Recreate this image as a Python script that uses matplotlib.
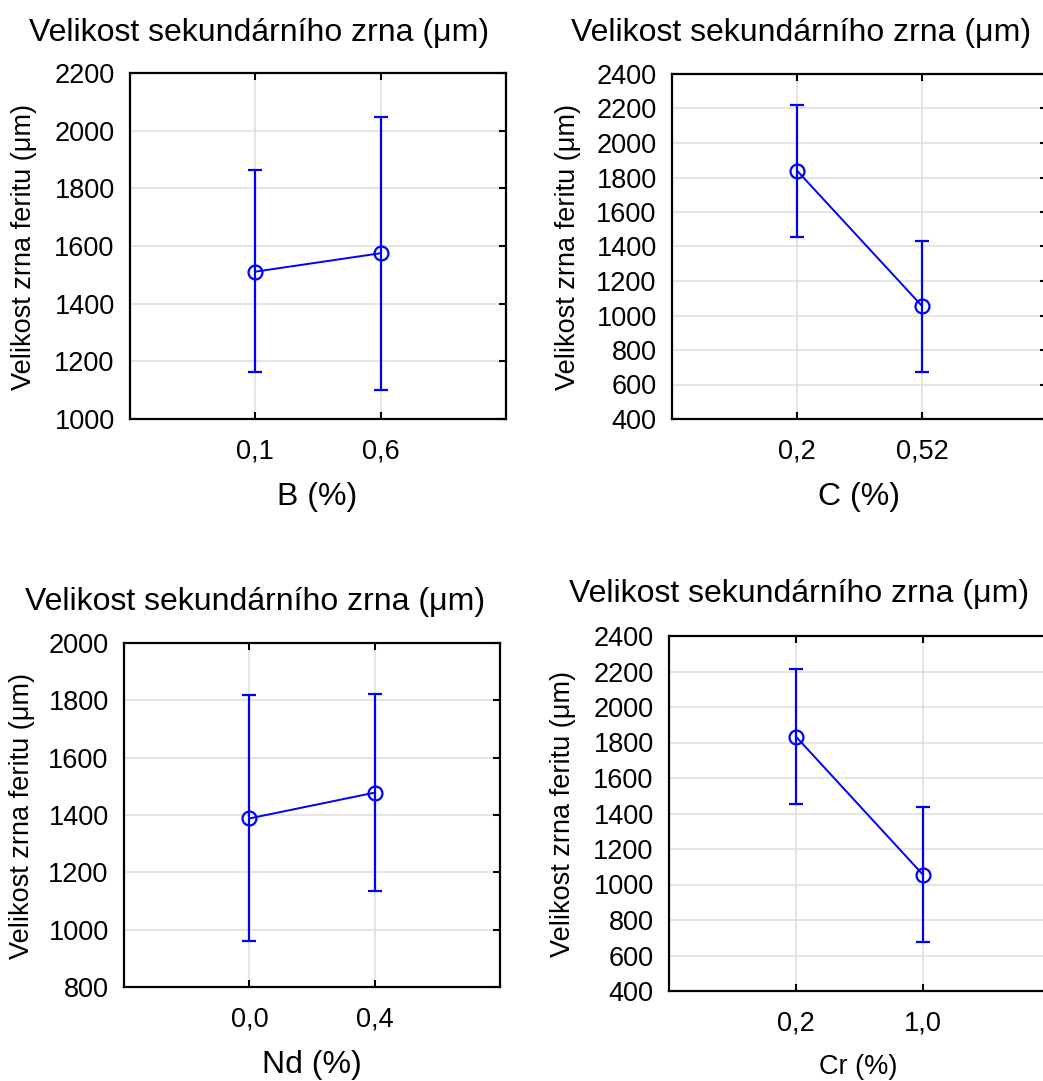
import matplotlib
matplotlib.use("Agg")
import matplotlib.pyplot as plt

plt.rcParams['font.family'] = ['Liberation Sans', 'DejaVu Sans']

# data (mean with lower / upper interval ends)
b_labels = ["0,1", "0,6"]
b_mean = [1511, 1575]
b_low = [1162, 1100]
b_high = [1862, 2049]

c_labels = ["0,2", "0,52"]
c_mean = [1840, 1055]
c_low = [1457, 674]
c_high = [2219, 1434]

nd_labels = ["0,0", "0,4"]
nd_mean = [1388, 1478]
nd_low = [961, 1134]
nd_high = [1818, 1822]

cr_labels = ["0,2", "1,0"]
cr_mean = [1833, 1055]
cr_low = [1454, 675]
cr_high = [2214, 1434]

title = "Velikost sekundárního zrna (μm)"
ylab = "Velikost zrna feritu (μm)"

W, H = 1043, 1081
fig = plt.figure(figsize=(W / 100, H / 100), dpi=100)


def px_axes(left, right, top, bottom):
    return fig.add_axes([left / W, 1 - bottom / H, (right - left) / W, (bottom - top) / H])


def panel(box, labels, mean, low, high, ylim, yticks):
    ax = px_axes(*box)
    xs = [1, 2]
    err = [[m - l for m, l in zip(mean, low)], [h - m for m, h in zip(mean, high)]]
    ax.errorbar(xs, mean, yerr=err, color='#0000ff', lw=1.4, marker='o', ms=10,
                mfc='none', mew=1.6, capsize=4.7, capthick=1.6, elinewidth=1.6)
    ax.set_xlim(0, 3)
    ax.set_ylim(*ylim)
    ax.set_yticks(yticks)
    ax.set_xticks(xs)
    ax.set_xticklabels(labels)
    ax.grid(True, color='#dedede', lw=1.1)
    ax.set_axisbelow(True)
    ax.tick_params(direction='in', left=False, right=True, top=True, bottom=True,
                   length=5, width=1.5, labelsize=19.5)
    ax.tick_params(axis='y', pad=11)
    ax.tick_params(axis='x', pad=14)
    for s in ax.spines.values():
        s.set_linewidth(1.6)
    return ax


panel((130, 506, 73, 419), b_labels, b_mean, b_low, b_high, (1000, 2200), range(1000, 2201, 200))
panel((672, 1047, 74, 419), c_labels, c_mean, c_low, c_high, (400, 2400), range(400, 2401, 200))
panel((124, 500, 643, 987), nd_labels, nd_mean, nd_low, nd_high, (800, 2000), range(800, 2001, 200))
panel((669, 1050, 636, 991), cr_labels, cr_mean, cr_low, cr_high, (400, 2400), range(400, 2401, 200))


def ftext(x, y, s, **kw):
    fig.text(x / W, 1 - y / H, s, ha='center', va='center', **kw)


# titles
ftext(259, 33, title, fontsize=23)
ftext(801, 33, title, fontsize=23)
ftext(255, 602, title, fontsize=23)
ftext(799, 594, title, fontsize=23)

# y labels
ftext(24, 247, ylab, fontsize=19.5, rotation=90)
ftext(568, 247, ylab, fontsize=19.5, rotation=90)
ftext(22, 816, ylab, fontsize=19.5, rotation=90)
ftext(563, 814, ylab, fontsize=19.5, rotation=90)

# x labels
ftext(317, 497, "B (%)", fontsize=23)
ftext(859, 497, "C (%)", fontsize=23)
ftext(312, 1065, "Nd (%)", fontsize=23)
ftext(858, 1067, "Cr (%)", fontsize=19.5)

fig.savefig("out.png", dpi=100)
